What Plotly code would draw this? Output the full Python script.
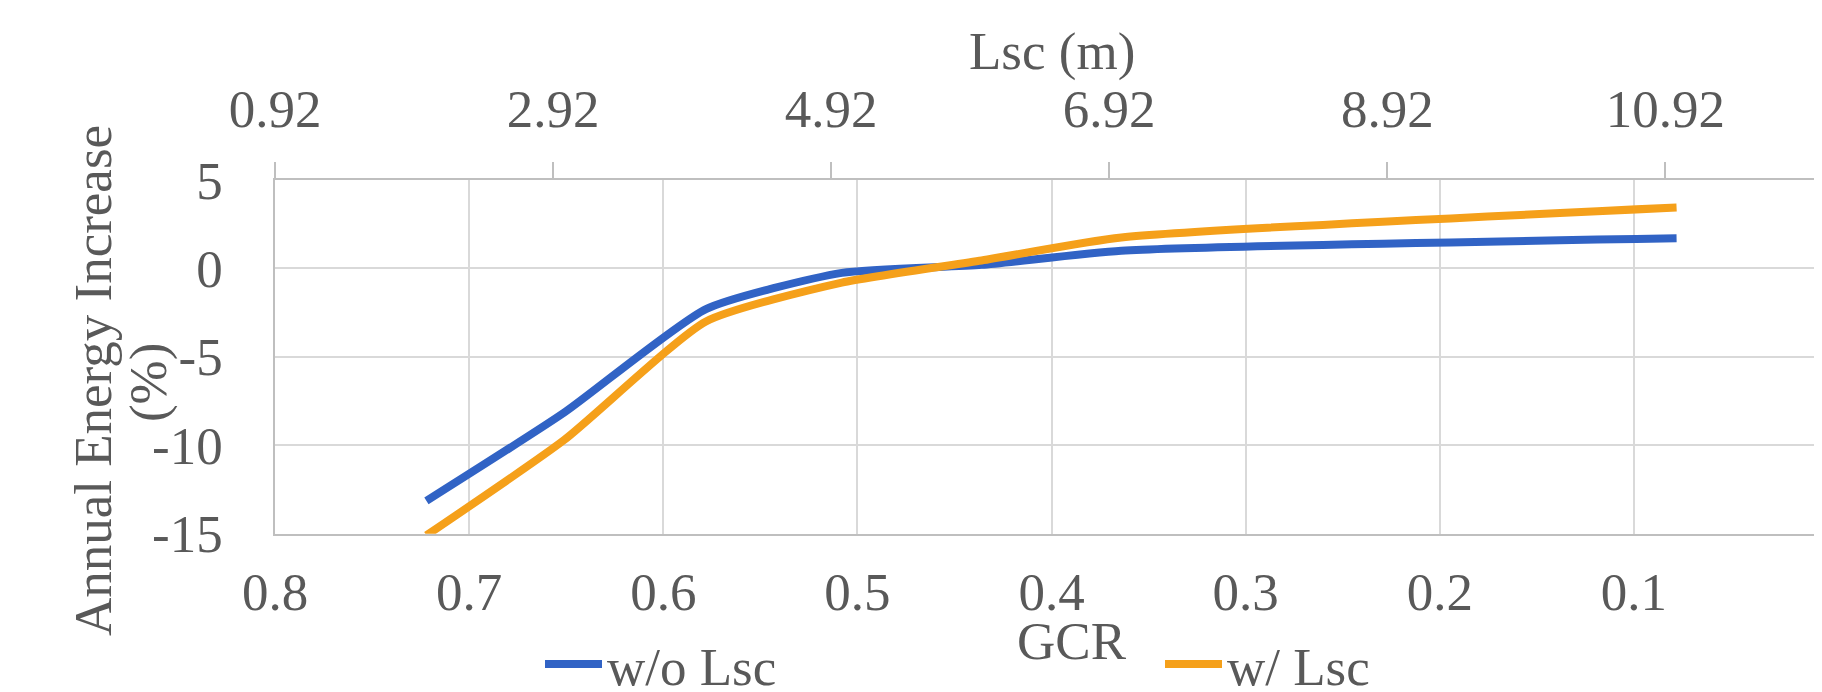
import plotly.graph_objects as go

# Data
gcr = [0.722, 0.651, 0.578, 0.508, 0.436, 0.364, 0.078]
wo_lsc = [-13.15, -8.15, -2.3, -0.25, 0.2, 1.0, 1.7]
w_lsc = [-15.1, -9.7, -3.0, -0.8, 0.45, 1.75, 3.44]
series_names = ["w/o Lsc", "w/ Lsc"]
colors = ["#3163C5", "#F5A01A"]

gcr_ticks = [0.8, 0.7, 0.6, 0.5, 0.4, 0.3, 0.2, 0.1, 0]
lsc_ticks = [0.92, 2.92, 4.92, 6.92, 8.92, 10.92]
y_ticks = [5, 0, -5, -10, -15]

W, H = 1822, 692
L, R, T, B = 267, 2, 172, 163
PW, PH = W - L - R, H - T - B

FONT = "Liberation Serif, Times New Roman, serif"
TXT = "#595959"
FS = 53

def px(x):
    return (x - L) / PW

def py(y):
    return (H - B - y) / PH

fig = go.Figure()
fig.add_trace(go.Scatter(x=gcr, y=wo_lsc, mode="lines", name=series_names[0],
                         line=dict(color=colors[0], width=8, shape="spline", smoothing=0.55),
                         legend="legend"))
fig.add_trace(go.Scatter(x=gcr, y=w_lsc, mode="lines", name=series_names[1],
                         line=dict(color=colors[1], width=8, shape="spline", smoothing=0.55),
                         legend="legend2"))

fig.update_layout(
    width=W, height=H,
    margin=dict(l=L, r=R, t=T, b=B, pad=0),
    paper_bgcolor="white", plot_bgcolor="white",
    font=dict(family=FONT, size=FS, color=TXT),
    xaxis=dict(range=[0.8, 0], tickvals=gcr_ticks, ticktext=[str(v) for v in gcr_ticks],
               showgrid=True, gridcolor="#D9D9D9", gridwidth=1.5,
               showline=True, linecolor="#BFBFBF", linewidth=1.5,
               zeroline=False, ticks="", ticklabelstandoff=11,
               tickfont=dict(family=FONT, size=FS, color=TXT)),
    xaxis2=dict(range=[0.92, 12.09], overlaying="x", side="top", anchor="y",
                tickvals=lsc_ticks, ticktext=[f"{v:.2f}" for v in lsc_ticks],
                showgrid=False, showline=True, linecolor="#BFBFBF", linewidth=1.5,
                zeroline=False, ticks="outside", ticklen=16, tickwidth=1.5, tickcolor="#BFBFBF",
                ticklabelstandoff=14,
                tickfont=dict(family=FONT, size=FS, color=TXT)),
    yaxis=dict(range=[-15, 5], tickvals=y_ticks, ticktext=[str(v) for v in y_ticks],
               showgrid=True, gridcolor="#D9D9D9", gridwidth=1.5,
               showline=True, linecolor="#BFBFBF", linewidth=1.5,
               zeroline=False, ticks="", ticklabelstandoff=40,
               tickfont=dict(family=FONT, size=FS, color=TXT)),
    legend=dict(orientation="h", xref="container", yref="container",
                x=532 / W, y=1 - 656 / H, xanchor="left", yanchor="middle",
                itemwidth=57,
                font=dict(family=FONT, size=FS, color=TXT), bgcolor="rgba(0,0,0,0)"),
    legend2=dict(orientation="h", xref="container", yref="container",
                 x=1152 / W, y=1 - 656 / H, xanchor="left", yanchor="middle",
                 itemwidth=57,
                 font=dict(family=FONT, size=FS, color=TXT), bgcolor="rgba(0,0,0,0)"),
    showlegend=True,
)

# dummy trace so that the top axis is drawn
fig.add_trace(go.Scatter(x=[lsc_ticks[0]], y=[None], xaxis="x2", yaxis="y",
                         showlegend=False, hoverinfo="skip", mode="lines"))

annos = [
    dict(text="Lsc (m)", x=0.5, y=py(42), xanchor="center", yanchor="middle"),
    dict(text="GCR", x=px(1064), y=py(637), xanchor="center", yanchor="middle"),
    dict(text="Annual Energy Increase", x=px(85), y=py(375), xanchor="center",
         yanchor="middle", textangle=-90),
    dict(text="(%)", x=px(140), y=py(377), xanchor="center", yanchor="middle", textangle=-90),
]
for a in annos:
    fig.add_annotation(xref="paper", yref="paper", showarrow=False,
                       font=dict(family=FONT, size=FS, color=TXT), **a)

fig.write_html("out.html")
